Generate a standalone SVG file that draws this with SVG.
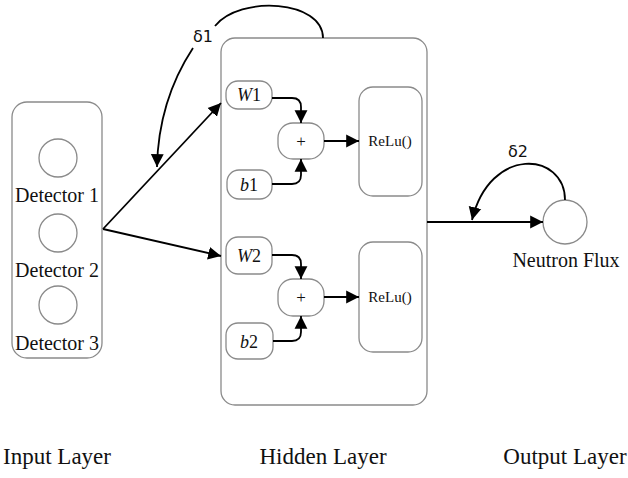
<svg xmlns="http://www.w3.org/2000/svg" width="628" height="478" viewBox="0 0 628 478">
<style>
.box{fill:#fff;stroke:#8a8a8a;stroke-width:1.3}
.ln{fill:none;stroke:#000;stroke-width:1.8}
.t{font-family:"Liberation Serif","Times New Roman",serif;fill:#111}
.d{font-family:"DejaVu Sans",sans-serif;fill:#111}
</style>
<defs>
<marker id="ah" markerUnits="userSpaceOnUse" markerWidth="14" markerHeight="14" viewBox="0 0 12 12" refX="11" refY="6" orient="auto">
<path d="M0,0.5 L11,6 L0,11.5 Z" fill="#000"/>
</marker>
</defs>
<rect width="628" height="478" fill="#fff"/>
<g id="input-layer">
<rect class="box" x="12" y="102" width="90" height="256" rx="15"/>
<circle class="box" cx="58" cy="158" r="19"/>
<circle class="box" cx="58" cy="233" r="19"/>
<circle class="box" cx="58" cy="305" r="19"/>
<text class="t" x="57" y="202" font-size="20" text-anchor="middle">Detector 1</text>
<text class="t" x="57" y="277" font-size="20" text-anchor="middle">Detector 2</text>
<text class="t" x="57" y="350" font-size="20" text-anchor="middle">Detector 3</text>
</g>
<g id="hidden-layer">
<rect class="box" x="221" y="38" width="206" height="367" rx="14"/>
</g>
<g id="w1"><rect class="box" x="226" y="81" width="46" height="28" rx="12"/><text class="t" x="249" y="101" font-size="18" text-anchor="middle"><tspan font-style="italic">W</tspan>1</text></g>
<g id="b1"><rect class="box" x="227" y="170" width="45" height="29" rx="12"/><text class="t" x="249" y="191" font-size="18" text-anchor="middle"><tspan font-style="italic">b</tspan>1</text></g>
<g id="plus1"><rect class="box" x="278" y="123" width="46" height="36" rx="15"/><text class="t" x="301" y="147" font-size="17" text-anchor="middle">+</text></g>
<g id="relu1"><rect class="box" x="359" y="87" width="63" height="109" rx="14"/><text class="t" x="390" y="146" font-size="15" text-anchor="middle">ReLu()</text></g>
<g id="w2"><rect class="box" x="226" y="237" width="46" height="37" rx="12"/><text class="t" x="249" y="262" font-size="18" text-anchor="middle"><tspan font-style="italic">W</tspan>2</text></g>
<g id="b2"><rect class="box" x="226" y="323" width="47" height="36" rx="12"/><text class="t" x="249" y="348" font-size="18" text-anchor="middle"><tspan font-style="italic">b</tspan>2</text></g>
<g id="plus2"><rect class="box" x="278" y="279" width="46" height="37" rx="15"/><text class="t" x="301" y="303" font-size="17" text-anchor="middle">+</text></g>
<g id="relu2"><rect class="box" x="359" y="242" width="63" height="110" rx="14"/><text class="t" x="390" y="302" font-size="15" text-anchor="middle">ReLu()</text></g>
<g id="output"><circle class="box" cx="565" cy="222" r="22"/><text class="t" x="566" y="267" font-size="20" text-anchor="middle">Neutron Flux</text></g>
<g id="connectors">
<path class="ln" d="M103,229 L221,103" marker-end="url(#ah)"/>
<path class="ln" d="M103,229 L221,256" marker-end="url(#ah)"/>
<path class="ln" d="M272,98 H292 Q301,98 301,107 V123" marker-end="url(#ah)"/>
<path class="ln" d="M272,184 H292 Q301,184 301,175 V159" marker-end="url(#ah)"/>
<path class="ln" d="M324,141 H359" marker-end="url(#ah)"/>
<path class="ln" d="M272,255 H292 Q301,255 301,264 V279" marker-end="url(#ah)"/>
<path class="ln" d="M273,341 H292 Q301,341 301,332 V316" marker-end="url(#ah)"/>
<path class="ln" d="M324,297 H359" marker-end="url(#ah)"/>
<path class="ln" d="M427,222 H543" marker-end="url(#ah)"/>
<path class="ln" d="M323,38 C323,0 240,-5 215,26"/>
<path class="ln" d="M193,48 C172,80 158,120 157,167" marker-end="url(#ah)"/>
<path class="ln" d="M565,200 C565,152 490,145 472,220" marker-end="url(#ah)"/>
<text class="d" x="203" y="42" font-size="16" text-anchor="middle">δ1</text>
<text class="d" x="518" y="157" font-size="16" text-anchor="middle">δ2</text>
</g>
<g id="labels">
<text class="t" x="57" y="464" font-size="23" text-anchor="middle">Input Layer</text>
<text class="t" x="323" y="464" font-size="23" text-anchor="middle">Hidden Layer</text>
<text class="t" x="565" y="464" font-size="23" text-anchor="middle">Output Layer</text>
</g>
</svg>
